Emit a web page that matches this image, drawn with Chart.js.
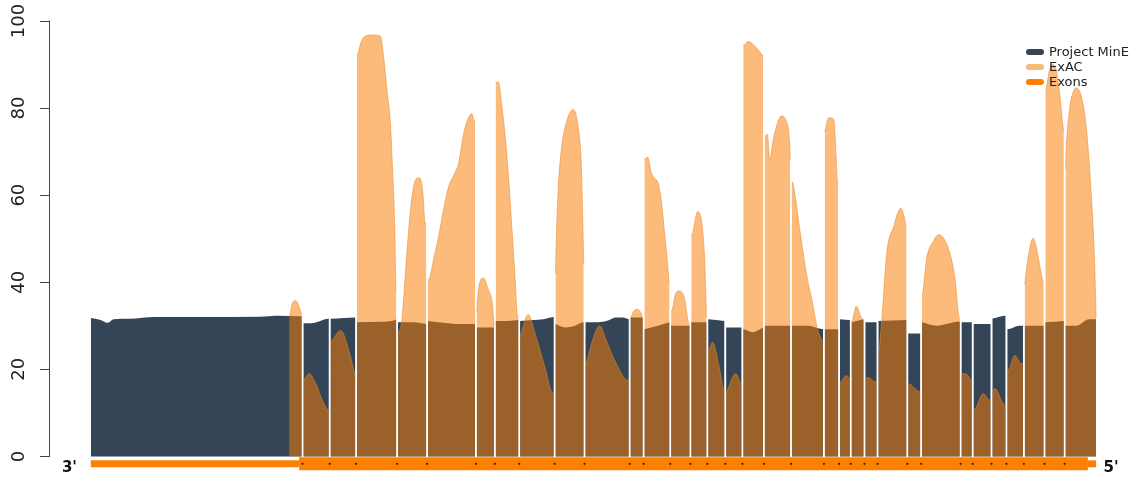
<!DOCTYPE html>
<html>
<head>
<meta charset="utf-8">
<script src="https://cdn.jsdelivr.net/npm/chart.js@4.4.1/dist/chart.umd.min.js"></script>
<style>
  html, body { margin: 0; padding: 0; background: #fff; }
  #wrap { position: relative; width: 1133px; height: 480px; }
  #legend { position: absolute; left: 1026px; top: 44px; font-family: "DejaVu Sans", sans-serif; font-size: 13px; color: #222; }
  #legend .row { display: flex; align-items: center; height: 15px; white-space: nowrap; }
  #legend .mk { width: 18px; height: 6px; border-radius: 3px; margin-right: 5px; }
</style>
</head>
<body>
<div id="wrap">
  <canvas id="c" width="1133" height="480"></canvas>
  <div id="legend"></div>
</div>
<script>
// ---- data (positions along the transcript, coverage values in %) ----
const yTicks = [0, 20, 40, 60, 80, 100];
const transcriptStart = 0, transcriptEnd = 1009;
const cdsStart = 209, cdsEnd = 1000.7;
const exacStart = 199;
const exonBreaks = [212.5, 239.7, 266.3, 307.4, 337.5, 386.5, 405.5, 430, 465.5, 495.5,
  540.8, 554.8, 581.6, 601.8, 618.8, 636.8, 654, 675.5, 702.8, 735.8, 751, 762.7, 776.5,
  789.6, 819.5, 833.4, 873, 885.1, 904, 919, 936.5, 957.2, 977.4];
const endLabels = ["3'", "5'"];
const seriesNames = ["Project MinE", "ExAC", "Exons"];

const mineX = [0,9,17,23,39,64,109,169,189,209,
  213,221,229,235,239,
  240,254,266,
  267,289,304,307,
  308,324,337,
  338,354,369,386,
  387,405,
  406,419,429,
  430.5,444,454,461,465,
  466,476,486,494,
  496,509,519,527,534,540,
  541,554,
  555,569,581,
  582,601,
  602,618,
  619,636,
  637,653,
  655,664,675,
  676,702,
  703,720,729,735,
  736,750,
  751.5,762,
  763,776,
  777,789,
  790,819,
  820,833,
  834,849,866,872,
  873.5,885,
  885.5,903.5,
  905,917,
  920,932,
  937,957,
  958,977,
  978,989,1002,1009];
const mineY = [31.8,31.4,30.7,31.5,31.6,32,32,32.1,32.3,32.2,
  30.6,30.6,31,31.5,31.7,
  31.6,31.8,31.9,
  30.8,30.9,31.2,31.5,
  30.8,30.8,30.4,
  31.1,30.7,30.4,30.4,
  29.6,29.6,
  31.1,31.1,31.3,
  31.1,31.3,31.5,31.9,32,
  30.4,29.6,30,30.8,
  30.8,30.8,31.2,31.9,31.9,31.5,
  31.9,31.9,
  29.2,30,30.8,
  30,30,
  30.8,30.8,
  31.5,31.1,
  29.6,29.6,
  29.2,28.5,29.6,
  30,30,
  30,30,29.5,29.2,
  29.2,29.2,
  31.5,31.3,
  30.8,31.5,
  30.8,30.8,
  31.1,31.3,
  28.2,28.2,
  30.8,30,30.8,31,
  30.8,30.8,
  30.4,30.4,
  31.7,32.3,
  29.2,30,
  30,30,
  30.8,31.1,
  30,30,31.5,31.5];

const exacX = [199.5,202,205,208,212,
  213,219,225.7,232.3,239,
  240.7,250.7,259,265.7,
  267.3,271,275,284,290.7,294,297.3,300.7,303,305,306.3,
  308,312.3,315.7,319,322.3,325.7,329.7,333,335.7,
  339,344,349,354,359,365,369,374,379,382.3,385,
  387,389,394,399,403,405,
  406.3,409,412.3,415.7,419,422.3,425.7,428.3,
  430.5,439,446,455.7,464,
  466,467.5,469,472.3,477.3,484,489,492.3,494,494.7,
  496,505.7,510.7,517.3,527.3,539,
  541.5,544,548,552,554.3,
  555.7,559,562.3,565.7,569,572.3,575.7,579,580.7,
  583,586.7,590.7,595.7,600.7,
  603,609,615.7,618.3,
  619.7,624,630.7,635.7,
  637.3,647.3,653,
  655.7,659.7,667.3,674.7,
  677.3,679,681.3,685.7,693.3,697.3,701.3,702.5,
  704,707.3,712.3,719,724,729,735,
  736.3,740.7,745.7,750,
  752.3,758.3,761.7,
  764,768.3,773,775.7,
  777.3,780.7,787.3,
  790.7,794,799,806.3,809,813,816.7,818.3,
  820.7,825.7,832.3,
  834.3,839,845.7,850.7,854,860.7,867.3,871.7,
  874,879,884,
  886.3,895.7,902.3,
  905.7,907.3,917.3,
  920.7,927.3,934,
  937.3,941,945.7,949,952.3,956.3,
  958.3,962,965.7,969,972.3,975.7,976.6,
  978.2,979,982.3,985.7,989,994,999,1004,1007.3,1009];
const exacY = [32.5,35,35.8,35,32.5,
  17.3,19,16.7,12.9,10,
  26.6,28.9,24.3,18.2,
  92.3,95,96.5,96.8,96.5,91.5,83.9,76.3,64.9,53.5,38.3,
  28,31.5,42,52,59.6,63.4,64,61.1,53.5,
  40.6,45.2,50.5,56.6,61.9,64.9,67.2,74,77.8,78.7,77.1,
  33,38.3,41,38.3,35,30,
  85.8,86,80.9,74,64.9,53.5,41.4,32.3,
  27.3,32.6,28.1,20.5,14.4,
  42,52,61,70.6,76.7,79.7,75.9,66.8,51.6,44,
  20.5,28.1,30,26.6,21.3,17.5,
  31.5,33,33.8,33,31.5,
  68.3,68.7,65.3,63.8,63,59.2,51.7,44,39.5,
  33.5,37.2,38,36.4,30.4,
  50.9,56.2,47,32,
  24.3,26.2,20.5,15.2,
  14.4,19,16.7,
  94.5,95.3,94,91.9,
  73.6,74,68.3,73.6,78.2,77.4,72.2,68,
  63.1,59.2,50.9,41,35.7,29.6,26,
  74.5,77.8,77.4,62.3,
  17.1,18.6,18,
  31.2,34.5,32,31,
  17.8,18.1,17.1,
  24.3,31.9,47,53.1,55.4,57,54.7,53,
  16.7,15.9,14.8,
  37.2,45.6,49.4,50.9,50.6,47.8,41,32,
  19,18.9,17.5,
  10.6,14.4,12.9,
  15.2,15.6,11.8,
  19.8,23.2,21.3,
  39.5,46,50.1,48,44,40,
  84.3,88.5,90,88.5,83.5,75.9,75,
  66,70.6,79.7,83.5,84.6,82.8,75.9,60.7,45.6,31.9];

// ---- styling ----
const COL_MINE = '#344558';
const COL_EXAC = 'rgba(250,125,0,0.52)';
const COL_EXAC_LEG = '#fbb978';
const COL_EXON = '#fc8002';
const GAP = 0.8;
const BAR_Y = -1.71;

// split a series into one segment per exon, with small gaps at exon boundaries
function buildSeries(xs, ys, start, end) {
  const edges = [start].concat(exonBreaks.filter(b => b > start && b < end), [end]);
  const out = [];
  for (let s = 0; s < edges.length - 1; s++) {
    const a = edges[s], b = edges[s + 1];
    const ga = s === 0 ? 0 : GAP, gb = s === edges.length - 2 ? 0 : GAP;
    const pts = [];
    xs.forEach((x, i) => { if (x >= a && x <= b) pts.push({ x: x, y: ys[i] }); });
    if (!pts.length) continue;
    if (pts[0].x <= a + ga) pts[0].x = a + ga; else pts.unshift({ x: a + ga, y: pts[0].y });
    const l = pts.length - 1;
    if (pts[l].x >= b - gb) pts[l].x = b - gb; else pts.push({ x: b - gb, y: pts[l].y });
    out.push(...pts);
    if (s < edges.length - 2) out.push({ x: b, y: null });
  }
  return out;
}

const mineData = buildSeries(mineX, mineY, transcriptStart, transcriptEnd);
const exacData = buildSeries(exacX, exacY, exacStart, transcriptEnd);
const dots = exonBreaks.filter(b => b > cdsStart && b < cdsEnd).map(b => ({ x: b, y: BAR_Y }));

const decor = {
  id: 'decor',
  afterDraw(chart) {
    const ctx = chart.ctx, xs = chart.scales.x, ys = chart.scales.y;
    ctx.save();
    ctx.strokeStyle = '#444';
    ctx.lineWidth = 1;
    ctx.beginPath();
    const ax = Math.round(chart.chartArea.left) - 0.5;
    ctx.moveTo(ax, ys.getPixelForValue(yTicks[0]) + 0.5);
    ctx.lineTo(ax, ys.getPixelForValue(yTicks[yTicks.length - 1]) - 0.5);
    ctx.stroke();
    ctx.fillStyle = '#111';
    ctx.font = 'bold 15px "DejaVu Sans"';
    ctx.textAlign = 'center';
    ctx.textBaseline = 'middle';
    const ly = ys.getPixelForValue(-2.8);
    ctx.fillText(endLabels[0], xs.getPixelForValue(transcriptStart - 21.5), ly);
    ctx.fillText(endLabels[1], xs.getPixelForValue(transcriptEnd + 15), ly);
    ctx.restore();
  }
};

new Chart(document.getElementById('c'), {
  type: 'line',
  data: {
    datasets: [
      { label: 'dots', data: dots, showLine: false, pointRadius: 1.1, pointBackgroundColor: '#3a2410',
        pointBorderWidth: 0, order: -1 },
      { label: seriesNames[2], data: [{ x: cdsStart, y: BAR_Y }, { x: cdsEnd, y: BAR_Y }],
        borderColor: COL_EXON, borderWidth: 13, borderCapStyle: 'butt', pointRadius: 0, fill: false, order: 0 },
      { label: 'UTR3', data: [{ x: transcriptStart, y: BAR_Y }, { x: cdsStart, y: BAR_Y }],
        borderColor: COL_EXON, borderWidth: 7, borderCapStyle: 'butt', pointRadius: 0, fill: false, order: 0 },
      { label: 'UTR5', data: [{ x: cdsEnd, y: BAR_Y }, { x: transcriptEnd, y: BAR_Y }],
        borderColor: COL_EXON, borderWidth: 7, borderCapStyle: 'butt', pointRadius: 0, fill: false, order: 0 },
      { label: seriesNames[1], data: exacData, borderColor: 'rgba(235,135,40,0.55)', borderWidth: 1,
        backgroundColor: COL_EXAC, fill: 'origin', pointRadius: 0, cubicInterpolationMode: 'monotone',
        spanGaps: false, order: 1 },
      { label: seriesNames[0], data: mineData, borderColor: COL_MINE, borderWidth: 0,
        backgroundColor: COL_MINE, fill: 'origin', pointRadius: 0, cubicInterpolationMode: 'monotone',
        spanGaps: false, order: 2 }
    ]
  },
  options: {
    responsive: false,
    animation: false,
    layout: { padding: { left: 0, top: 21, right: 0, bottom: 0 } },
    plugins: { legend: { display: false }, tooltip: { enabled: false } },
    scales: {
      x: { type: 'linear', display: false, min: -41, max: 1042 },
      y: {
        type: 'linear', min: -4.5, max: 100,
        border: { display: false },
        grid: { drawOnChartArea: false, drawTicks: true, tickLength: 10, color: '#444', lineWidth: 1 },
        ticks: { minRotation: 90, maxRotation: 90, crossAlign: 'center', padding: 3, color: '#222',
          font: { family: 'DejaVu Sans', size: 18 } },
        afterBuildTicks: s => { s.ticks = yTicks.map(v => ({ value: v })); },
        afterFit: s => { s.width = 50; s.paddingTop = 0; s.paddingBottom = 0; }
      }
    }
  },
  plugins: [decor]
});

// legend (drawn over the plot, like the reference)
const legendColors = [COL_MINE, COL_EXAC_LEG, COL_EXON];
const leg = document.getElementById('legend');
seriesNames.forEach((n, i) => {
  const row = document.createElement('div');
  row.className = 'row';
  const mk = document.createElement('span');
  mk.className = 'mk';
  mk.style.background = legendColors[i];
  const t = document.createElement('span');
  t.textContent = n;
  row.appendChild(mk); row.appendChild(t);
  leg.appendChild(row);
});
</script>
</body>
</html>
